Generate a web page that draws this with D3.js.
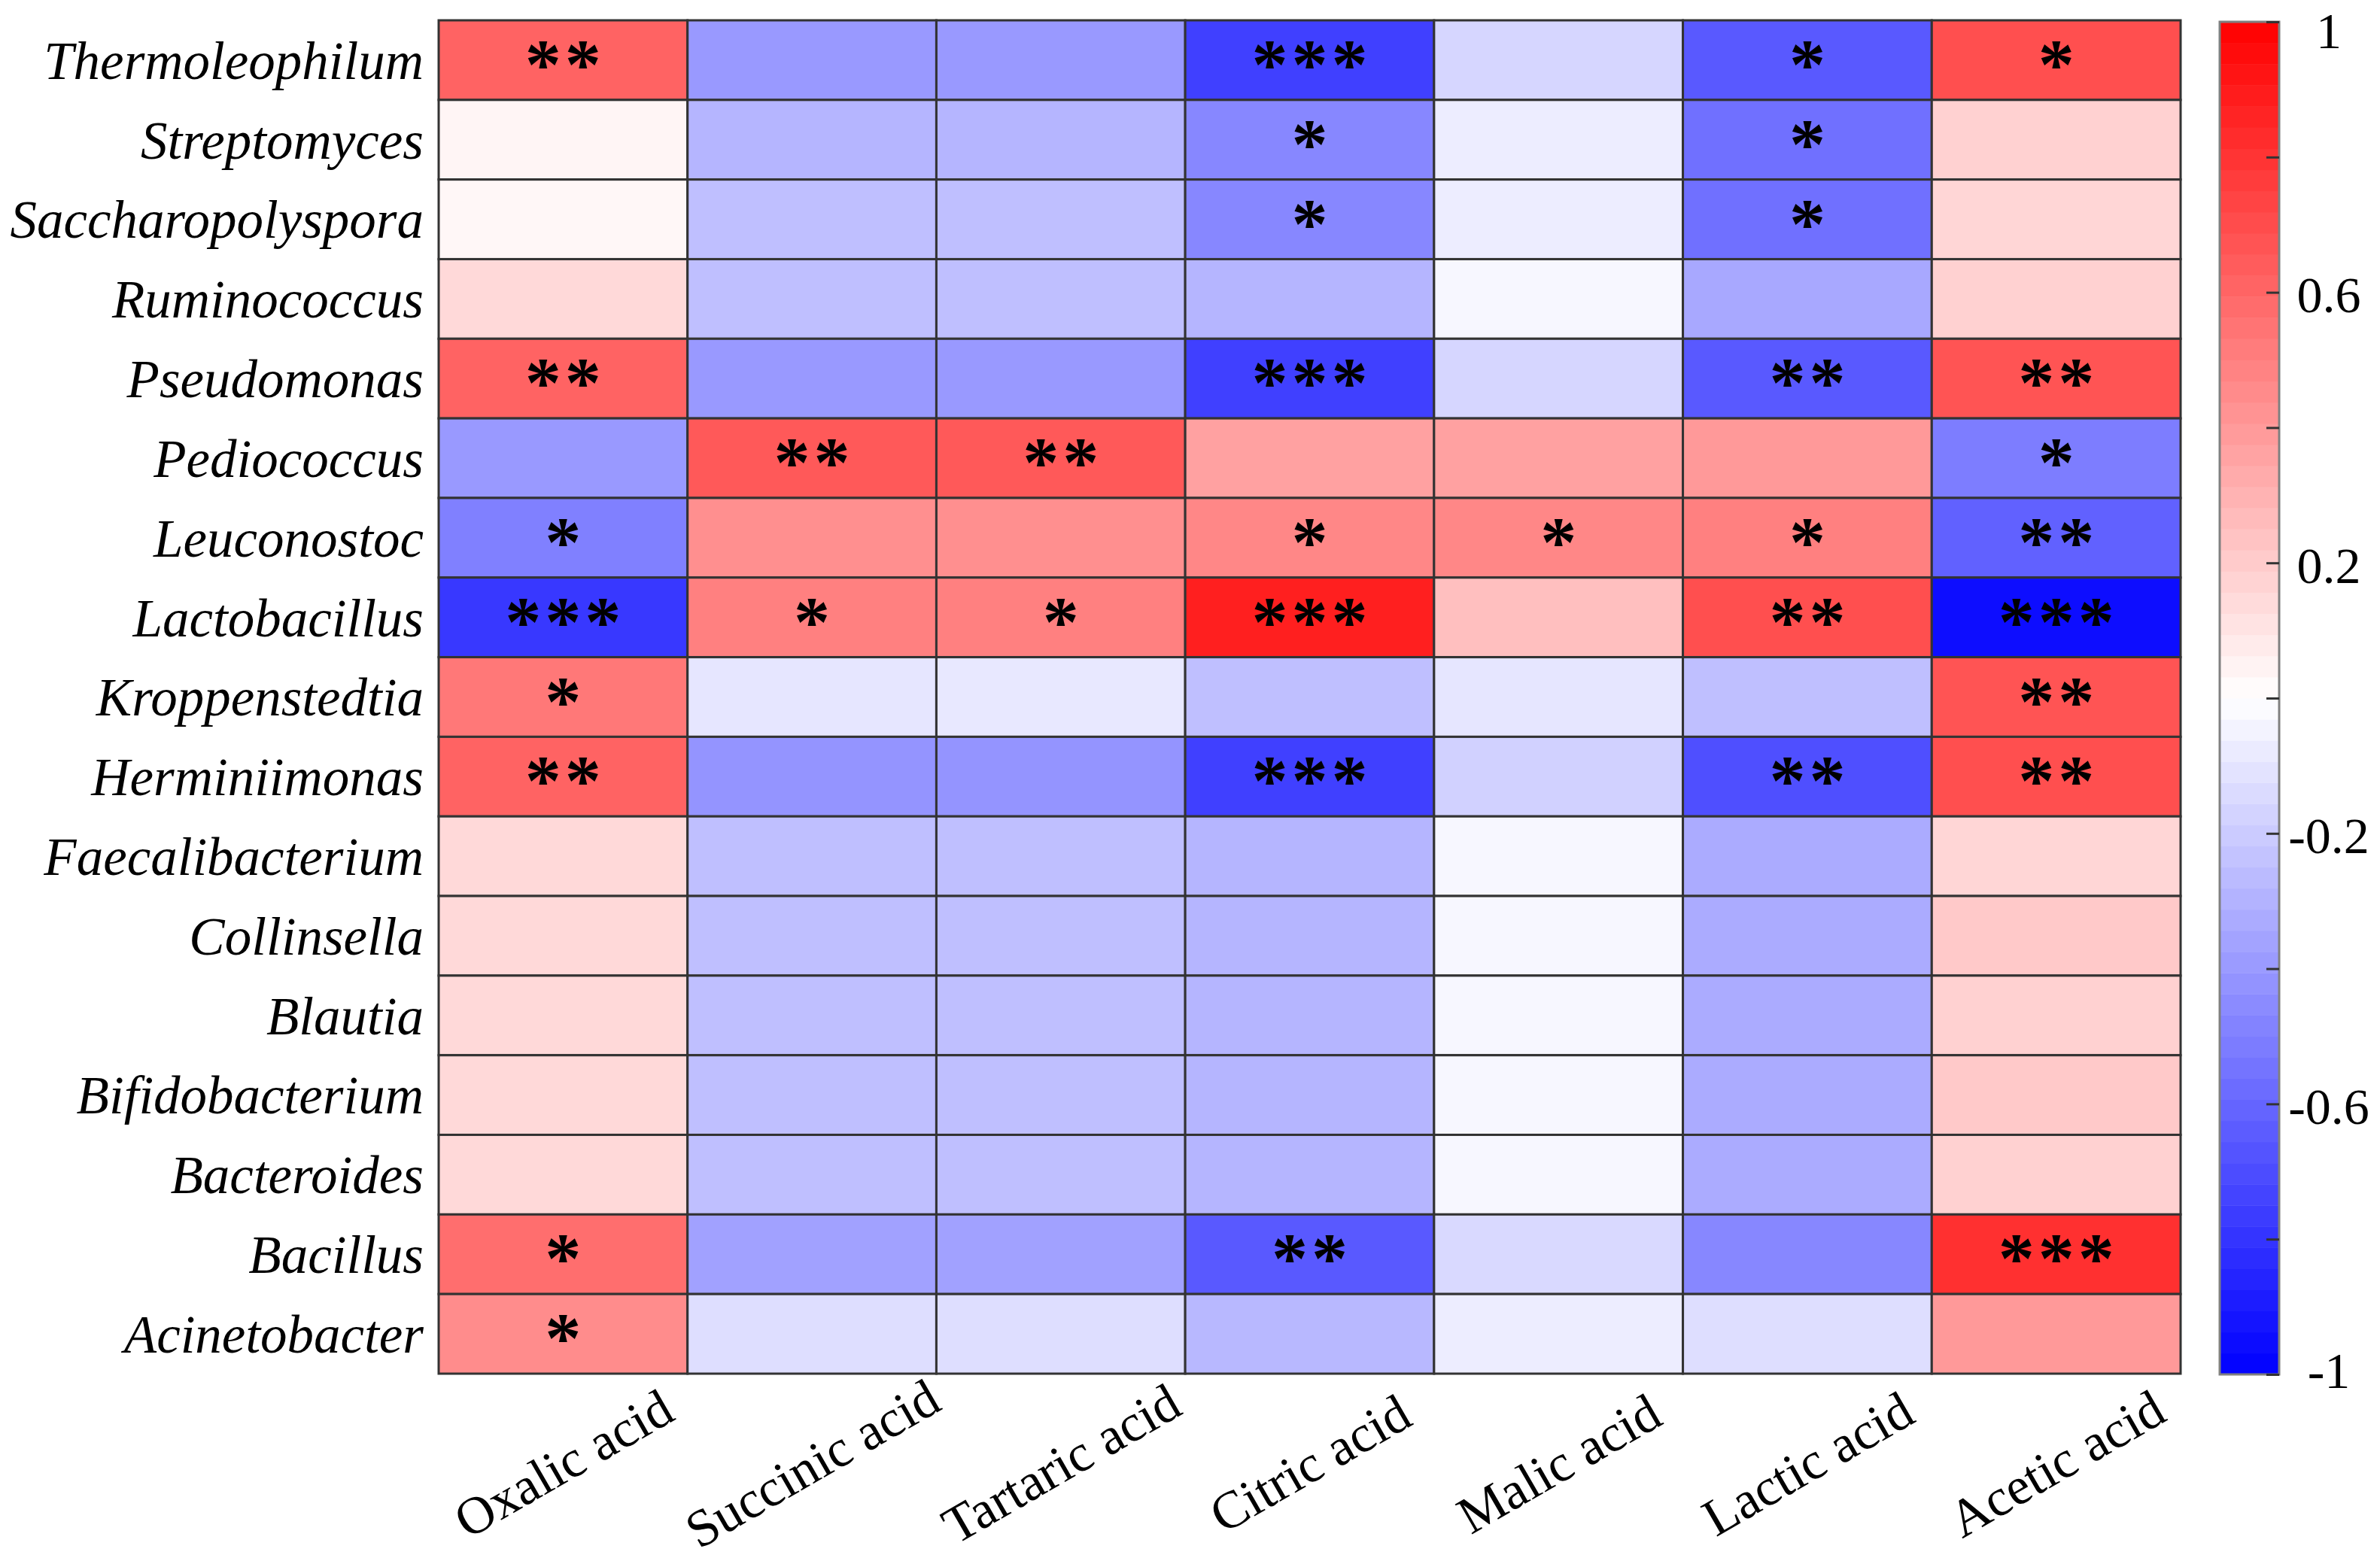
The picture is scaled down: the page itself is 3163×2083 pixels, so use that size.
<!doctype html>
<html>
<head>
<meta charset="utf-8">
<title>Genus / organic acid correlation heatmap</title>
<script src="https://d3js.org/d3.v7.min.js"></script>
<style>
  body { margin: 0; background: #fff; }
  text { font-family: "Liberation Serif", "Times New Roman", serif; fill: #000; }
  .rowlab { font-style: italic; font-size: 71px; text-anchor: end; }
  .collab { font-size: 70px; text-anchor: middle; }
  .star { font-size: 96px; font-weight: bold; text-anchor: middle; }
</style>
</head>
<body>
<svg id="chart" width="3163" height="2083"></svg>
<script>
const genera = ["Thermoleophilum", "Streptomyces", "Saccharopolyspora", "Ruminococcus",
  "Pseudomonas", "Pediococcus", "Leuconostoc", "Lactobacillus", "Kroppenstedtia",
  "Herminiimonas", "Faecalibacterium", "Collinsella", "Blautia", "Bifidobacterium",
  "Bacteroides", "Bacillus", "Acinetobacter"];

const acids = ["Oxalic acid", "Succinic acid", "Tartaric acid", "Citric acid",
  "Malic acid", "Lactic acid", "Acetic acid"];

// correlation values, one row per genus, columns in acids order
const corr = [
  [ 0.61, -0.40, -0.40, -0.75, -0.16, -0.65,  0.69],
  [ 0.04, -0.29, -0.29, -0.47, -0.07, -0.56,  0.18],
  [ 0.03, -0.25, -0.25, -0.47, -0.07, -0.56,  0.16],
  [ 0.15, -0.25, -0.25, -0.29, -0.03, -0.34,  0.18],
  [ 0.61, -0.40, -0.40, -0.75, -0.16, -0.65,  0.67],
  [-0.40,  0.65,  0.65,  0.37,  0.37,  0.40, -0.51],
  [-0.50,  0.44,  0.44,  0.47,  0.47,  0.50, -0.62],
  [-0.78,  0.50,  0.50,  0.88,  0.25,  0.69, -0.95],
  [ 0.53, -0.10, -0.09, -0.25, -0.10, -0.25,  0.67],
  [ 0.61, -0.42, -0.42, -0.75, -0.18, -0.69,  0.69],
  [ 0.15, -0.25, -0.25, -0.29, -0.03, -0.33,  0.16],
  [ 0.15, -0.25, -0.25, -0.29, -0.03, -0.33,  0.21],
  [ 0.15, -0.25, -0.25, -0.29, -0.03, -0.33,  0.18],
  [ 0.15, -0.25, -0.25, -0.29, -0.03, -0.33,  0.21],
  [ 0.15, -0.25, -0.25, -0.29, -0.03, -0.33,  0.18],
  [ 0.57, -0.37, -0.37, -0.65, -0.15, -0.47,  0.81],
  [ 0.45, -0.13, -0.13, -0.28, -0.07, -0.13,  0.40]
];

// significance marks, same layout as corr
const signif = [
  ["**", "", "", "***", "", "*", "*"],
  ["", "", "", "*", "", "*", ""],
  ["", "", "", "*", "", "*", ""],
  ["", "", "", "", "", "", ""],
  ["**", "", "", "***", "", "**", "**"],
  ["", "**", "**", "", "", "", "*"],
  ["*", "", "", "*", "*", "*", "**"],
  ["***", "*", "*", "***", "", "**", "***"],
  ["*", "", "", "", "", "", "**"],
  ["**", "", "", "***", "", "**", "**"],
  ["", "", "", "", "", "", ""],
  ["", "", "", "", "", "", ""],
  ["", "", "", "", "", "", ""],
  ["", "", "", "", "", "", ""],
  ["", "", "", "", "", "", ""],
  ["*", "", "", "**", "", "", "***"],
  ["*", "", "", "", "", "", ""]
];

const cbTicks = [-1, -0.8, -0.6, -0.4, -0.2, 0, 0.2, 0.4, 0.6, 0.8, 1];
const cbLabels = [1, 0.6, 0.2, -0.2, -0.6, -1];

const svg = d3.select("#chart");

const plot = { left: 583, right: 2898, top: 27, bottom: 1826 };
const bar = { left: 2950, right: 3029, top: 29, bottom: 1827 };

const x = d3.scaleBand().domain(acids).range([plot.left, plot.right]);
const y = d3.scaleBand().domain(genera).range([plot.top, plot.bottom]);
const color = d3.scaleLinear().domain([-1, 0, 1]).range(["#0000ff", "#ffffff", "#ff0000"]);

const cells = [];
genera.forEach((g, i) => acids.forEach((a, j) => {
  cells.push({ genus: g, acid: a, value: corr[i][j], mark: signif[i][j] });
}));

svg.append("g")
  .selectAll("rect")
  .data(cells)
  .join("rect")
  .attr("x", d => x(d.acid))
  .attr("y", d => y(d.genus))
  .attr("width", x.bandwidth())
  .attr("height", y.bandwidth())
  .attr("fill", d => color(d.value))
  .attr("stroke", "#333")
  .attr("stroke-width", 3);

const starSpacing = 5;
svg.append("g")
  .selectAll("text")
  .data(cells.filter(d => d.mark))
  .join("text")
  .attr("class", "star")
  .attr("x", d => x(d.acid) + x.bandwidth() / 2 + starSpacing / 2)
  .attr("y", d => y(d.genus) + y.bandwidth() / 2 + 38)
  .style("letter-spacing", starSpacing + "px")
  .text(d => d.mark);

// row labels
svg.append("g")
  .selectAll("text")
  .data(genera)
  .join("text")
  .attr("class", "rowlab")
  .attr("x", plot.left - 20)
  .attr("y", d => y(d) + y.bandwidth() / 2)
  .attr("dy", "0.35em")
  .text(d => d);

// column labels, rotated about their centre
svg.append("g")
  .selectAll("text")
  .data(acids)
  .join("text")
  .attr("class", "collab")
  .attr("transform", d => "translate(" + (x(d) + x.bandwidth() / 2) + ",1945) rotate(-30)")
  .attr("dy", "0.35em")
  .text(d => d);

// colour bar
const cbScale = d3.scaleLinear().domain([-1, 1]).range([bar.bottom, bar.top]);
const nSteps = 64;
const steps = d3.range(nSteps).map(k => -1 + (k + 0.5) * 2 / nSteps);
const stepH = (bar.bottom - bar.top) / nSteps;

const cb = svg.append("g");
cb.selectAll("rect.step")
  .data(steps)
  .join("rect")
  .attr("class", "step")
  .attr("x", bar.left)
  .attr("y", d => cbScale(d) - stepH / 2)
  .attr("width", bar.right - bar.left)
  .attr("height", stepH + 0.5)
  .attr("fill", d => color(d));

cb.append("rect")
  .attr("x", bar.left)
  .attr("y", bar.top)
  .attr("width", bar.right - bar.left)
  .attr("height", bar.bottom - bar.top)
  .attr("fill", "none")
  .attr("stroke", "#808080")
  .attr("stroke-width", 3);

const cbAxis = d3.axisRight(cbScale)
  .tickValues(cbTicks)
  .tickSize(-17)
  .tickPadding(0)
  .tickFormat(d => cbLabels.some(v => Math.abs(v - d) < 1e-9) ? String(d) : "");

const axisG = cb.append("g")
  .attr("transform", "translate(" + bar.right + ",0)")
  .call(cbAxis);
axisG.select(".domain").remove();
axisG.selectAll(".tick line").attr("stroke", "#333").attr("stroke-width", 3);
axisG.selectAll(".tick text")
  .attr("x", 66)
  .attr("text-anchor", "middle")
  .attr("dy", d => d === 1 ? "0.5em" : (d === -1 ? "0.25em" : "0.38em"))
  .style("font-family", "'Liberation Serif', 'Times New Roman', serif")
  .style("font-size", "68px");
</script>
</body>
</html>
